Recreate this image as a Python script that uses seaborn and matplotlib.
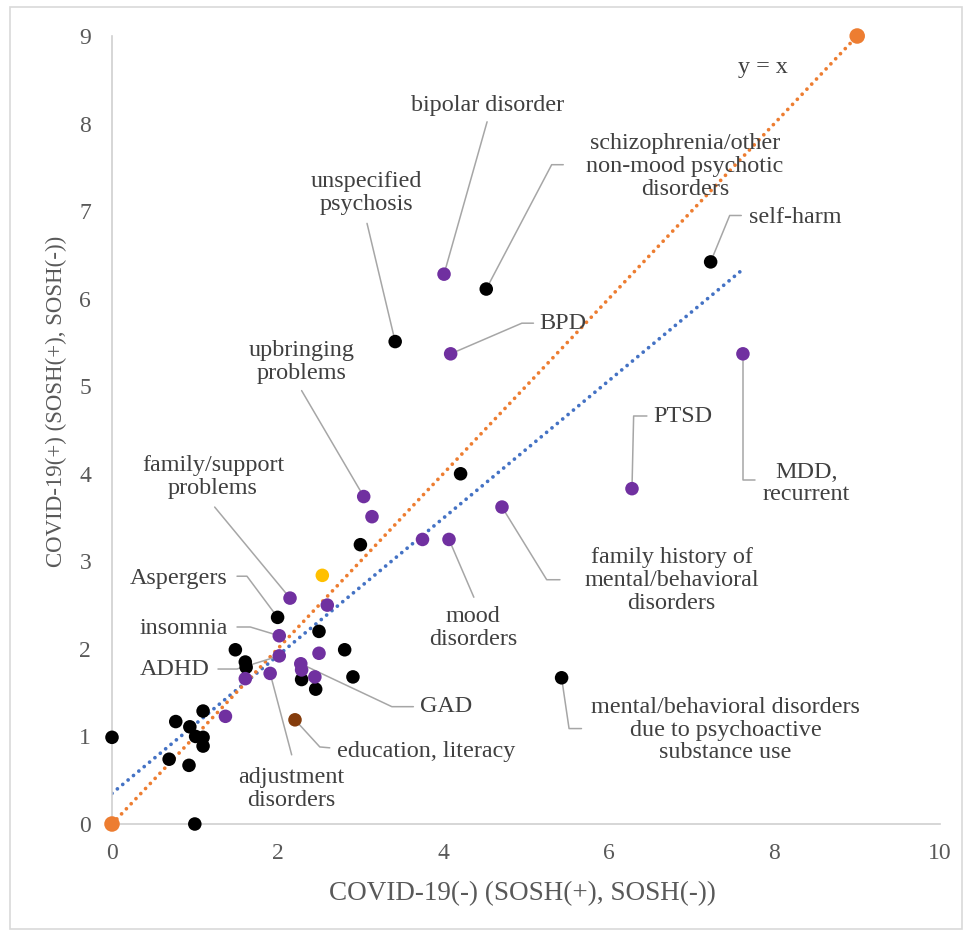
import numpy as np
import pandas as pd
import seaborn as sns
import matplotlib
matplotlib.use("Agg")
import matplotlib.pyplot as plt
from matplotlib.patches import Rectangle

# ---------------- data ----------------
black_x = [0.0, 1.0, 0.69, 0.77, 0.93, 0.94, 1.01, 1.10, 1.10, 1.10, 1.49, 1.61, 1.62,
           2.0, 2.29, 2.46, 2.50, 2.81, 2.91, 3.0, 3.42, 4.21, 4.52, 5.43, 7.23]
black_y = [0.99, 0.0, 0.74, 1.17, 0.67, 1.11, 1.0, 0.99, 0.89, 1.29, 1.99, 1.85, 1.79,
           2.36, 1.65, 1.54, 2.20, 1.99, 1.68, 3.19, 5.51, 4.0, 6.11, 1.67, 6.42]
purple_x = [1.37, 1.61, 1.91, 2.02, 2.02, 2.15, 2.28, 2.29, 2.45, 2.50,
            2.60, 3.04, 3.14, 3.75, 4.07, 4.71, 4.09, 4.01, 6.28, 7.62]
purple_y = [1.23, 1.66, 1.72, 2.15, 1.92, 2.58, 1.83, 1.76, 1.68, 1.95,
            2.50, 3.74, 3.51, 3.25, 3.25, 3.62, 5.37, 6.28, 3.83, 5.37]
yellow_x = [2.54]
yellow_y = [2.84]
brown_x = [2.21]
brown_y = [1.19]
identity_x = [0, 9]
identity_y = [0, 9]
trend_x = [0.0, 7.60]
trend_y = [0.35, 6.32]

x_ticks = [0, 2, 4, 6, 8, 10]
y_ticks = [0, 1, 2, 3, 4, 5, 6, 7, 8, 9]
x_title = "COVID-19(-) (SOSH(+), SOSH(-))"
y_title = "COVID-19(+) (SOSH(+), SOSH(-))"

# annotation: text, text position (data), leader path (data)
annotations = [
    ("y = x", (7.86, 8.64), None),
    ("bipolar disorder", (4.54, 8.21), [(4.53, 8.02), (4.01, 6.28)]),
    ("schizophrenia/other\nnon-mood psychotic\ndisorders", (6.92, 7.51),
     [(5.45, 7.53), (5.31, 7.53), (4.52, 6.11)]),
    ("unspecified\npsychosis", (3.07, 7.21), [(3.08, 6.86), (3.42, 5.51)]),
    ("self-harm", (8.25, 6.93), [(7.60, 6.95), (7.46, 6.95), (7.23, 6.42)]),
    ("BPD", (5.45, 5.72), [(5.09, 5.72), (4.95, 5.72), (4.09, 5.37)]),
    ("upbringing\nproblems", (2.29, 5.28), [(2.29, 4.95), (3.04, 3.74)]),
    ("PTSD", (6.89, 4.65), [(6.46, 4.66), (6.30, 4.66), (6.28, 3.83)]),
    ("MDD,\nrecurrent", (8.39, 3.89), [(7.77, 3.93), (7.62, 3.93), (7.62, 5.37)]),
    ("family/support\nproblems", (1.22, 3.96), [(1.24, 3.62), (2.15, 2.58)]),
    ("family history of\nmental/behavioral\ndisorders", (6.76, 2.78),
     [(5.41, 2.79), (5.25, 2.79), (4.71, 3.62)]),
    ("mood\ndisorders", (4.36, 2.24), [(4.37, 2.59), (4.07, 3.25)]),
    ("Aspergers", (0.81, 2.80), [(1.51, 2.83), (1.63, 2.83), (2.0, 2.36)]),
    ("insomnia", (0.87, 2.23), [(1.51, 2.25), (1.67, 2.25), (2.02, 2.15)]),
    ("ADHD", (0.76, 1.76), [(1.28, 1.77), (1.51, 1.77), (2.02, 1.92)]),
    ("GAD", (4.04, 1.34), [(3.64, 1.34), (3.38, 1.34), (2.28, 1.83)]),
    ("mental/behavioral disorders\ndue to psychoactive\nsubstance use", (7.41, 1.07),
     [(5.67, 1.09), (5.52, 1.09), (5.43, 1.67)]),
    ("education, literacy", (3.79, 0.83), [(2.63, 0.87), (2.51, 0.88), (2.21, 1.19)]),
    ("adjustment\ndisorders", (2.17, 0.40), [(2.17, 0.79), (1.91, 1.72)]),
]

# ---------------- build tables ----------------
df = pd.concat([
    pd.DataFrame({"x": black_x, "y": black_y, "group": "other"}),
    pd.DataFrame({"x": purple_x, "y": purple_y, "group": "labeled"}),
    pd.DataFrame({"x": yellow_x, "y": yellow_y, "group": "yellow"}),
    pd.DataFrame({"x": brown_x, "y": brown_y, "group": "brown"}),
], ignore_index=True)
ident = pd.DataFrame({"x": identity_x, "y": identity_y})
trend = pd.DataFrame({"x": trend_x, "y": trend_y})

sns.set_theme(style="white")
plt.rcParams["font.family"] = ["Liberation Serif", "DejaVu Serif"]

W, H = 967, 935
fig = plt.figure(figsize=(W / 100, H / 100), dpi=100)
ax = fig.add_axes([112 / W, 1 - 824 / H, (940 - 112) / W, (824 - 36) / H])

# outer chart border
fig.patches.append(Rectangle((10 / W, 6 / H), (962 - 10) / W, (928 - 6) / H,
                             transform=fig.transFigure, fill=False,
                             edgecolor="#d9d9d9", linewidth=1.2, zorder=0))

palette = {"other": "#000000", "labeled": "#7030a0", "yellow": "#ffc000", "brown": "#843c0c"}
dot_style = (0, (0.01, 1.85))

# linear trendline
sns.lineplot(data=trend, x="x", y="y", ax=ax, color="#4472c4", linewidth=2.7,
             linestyle=dot_style, dash_capstyle="round", zorder=2)
# y = x line
sns.lineplot(data=ident, x="x", y="y", ax=ax, color="#ed7d31", linewidth=2.7,
             linestyle=dot_style, dash_capstyle="round", zorder=2)
sns.scatterplot(data=ident, x="x", y="y", ax=ax, color="#ed7d31", s=125,
                edgecolor="none", zorder=5, clip_on=False)

sns.scatterplot(data=df, x="x", y="y", hue="group", palette=palette, s=95,
                edgecolor="none", ax=ax, legend=False, zorder=4, clip_on=False)

ax.set_xlim(0, 10)
ax.set_ylim(0, 9)
ax.set_xticks(x_ticks)
ax.set_yticks(y_ticks)
ax.tick_params(axis="both", which="major", labelsize=17, labelcolor="#595959",
               color="#d0d0d0", length=5, width=1.2, direction="out")
ax.tick_params(axis="x", pad=9)
ax.tick_params(axis="y", pad=10)
for side in ["top", "right"]:
    ax.spines[side].set_visible(False)
for side in ["left", "bottom"]:
    ax.spines[side].set_color("#d0d0d0")
    ax.spines[side].set_linewidth(1.2)
ax.set_xlabel("")
ax.set_ylabel("")
fig.text(522 / W, 1 - 894 / H, x_title, ha="center", va="center", fontsize=19.5,
         color="#595959")
fig.text(56 / W, 1 - 401 / H, y_title, ha="center", va="center", fontsize=16.5,
         color="#595959", rotation=90)

for text, pos, path in annotations:
    ax.text(pos[0], pos[1], text, ha="center", va="center", fontsize=17.4,
            color="#404040", linespacing=1.1, zorder=6)
    if path:
        px, py = zip(*path)
        ax.plot(px, py, color="#a6a6a6", linewidth=1.1, zorder=3)

fig.savefig("out.png", dpi=100)
